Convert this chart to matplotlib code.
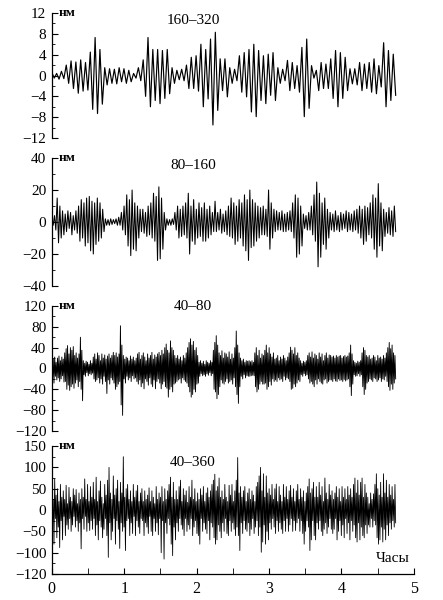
import numpy as np
import matplotlib
matplotlib.use("Agg")
import matplotlib.pyplot as plt
from matplotlib.ticker import MultipleLocator

plt.rcParams['font.family'] = ['Liberation Serif', 'DejaVu Serif']

T_END = 4.75  # hours, end of record

# ---- Panel 1: band 160-320 s (alternating peak / trough, nm)
p1_ext = [0.6, -0.5, 0.4, -0.7, 0.8, -0.6, 2.0, -1.5, 2.8, -2.5, 2.6, -3.4, 3.0, -3.0, 2.5, -2.8,
          4.5, -6.5, 7.3, -7.3, 5.0, -5.5, 1.5, -1.8, 1.3, -1.5, 1.2, -1.6, 1.5, -1.2, 1.3, -1.5,
          1.0, -1.2, 0.4, -0.5, 1.5, -1.0, 3.0, -4.0, 7.3, -6.0, 5.0, -4.8, 5.0, -5.4, 4.8, -4.4,
          5.0, -3.5, 1.5, -1.5, 1.0, -0.8, 1.2, -1.0, 2.0, -2.5, 3.5, -2.5, 3.8, -3.0, 6.0, -6.0,
          5.0, -4.5, 7.0, -9.5, 8.3, -6.7, 3.2, -2.9, 3.2, -4.1, 1.5, -1.5, 1.2, -1.0, 3.8, -3.2,
          4.4, -4.1, 5.0, -7.0, 6.0, -7.9, 4.8, -4.8, 3.8, -5.4, 4.1, -3.8, 4.4, -4.8, 1.5, -1.5,
          1.2, -1.0, 2.9, -2.9, 2.5, -2.5, 1.9, -3.2, 5.4, -7.9, 7.0, -6.3, 1.9, -0.5, 1.0, -2.9,
          2.5, -2.5, 2.2, -2.5, 3.2, -4.4, 4.8, -6.0, 4.4, -4.4, 3.5, -2.9, 1.3, -1.6, 1.3, -1.8,
          2.5, -2.9, 2.2, -2.5, 2.5, -3.2, 3.2, -3.5, 1.9, -2.2, 6.3, -6.0, 4.8, -4.8, 4.1, -3.8]

# ---- Panel 2: band 80-160 s
p2_ext = [3, -2, 4, -5,
          15, -13, 10, -10,
          7, -8, 5, -6, 7, -4, 6, -8, 4, -5, 7, -7,
          10, -12, 14, -10, 12, -15, 15, -13, 16, -18, 13, -20, 12, -14, 15, -12, 12, -10,
          8, -6,
          2, -2, 1.5, -2, 2, -1.5, 1.5, -1, 2, -2, 3, -2,
          6, -5, 10, -8, 17, -15, 14, -21, 20, -17, 12, -18, 10, -10, 8, -6,
          8, -7, 6, -9, 10, -8, 12, -10, 18, -12,
          16, -24, 22, -23, 15, -17,
          6, -5, 2, -2, 1.5, -2, 2, -1.5,
          6, -5, 10, -10, 8, -9, 10, -8,
          12, -10, 18, -20, 10, -12, 14, -14, 8, -10, 12, -9, 9, -12,
          12, -12, 8, -10, 10, -8, 6, -6, 13, -6,
          6, -5, 8, -7, 5, -6, 7, -8, 10, -9,
          15, -10, 12, -14, 10, -12, 14, -10, 12, -15, 17, -18, 14, -24, 20, -16, 14, -15, 12, -12, 10, -10, 9, -8,
          10, -8, 8, -9, 20, -17, 12, -10, 8, -6, 7, -5,
          6, -5, 7, -6,
          5, -6, 6, -5, 7, -6, 12, -10, 17, -22,
          15, -20, 10, -15,
          5, -4, 4, -5, 6, -5,
          10, -8, 17, -12, 25, -28, 18, -22, 12, -14, 15, -17, 8, -10,
          6, -5, 5, -6, 7, -5, 4, -6, 6, -5, 5, -4, 7, -6, 6, -5, 5, -6, 7, -5,
          8, -7, 10, -10, 8, -14, 10, -12, 9, -8, 12, -10,
          17, -17, 15, -22, 24, -15, 12, -18,
          8, -9, 6, -7, 9, -8, 7, -9, 10, -6]

# ---- Panel 3: band 40-80 s
p3_ext = [25, -20, 18, -28, 22, -15,
          12, -22, 20, -18, 24, -25, 15, -20, 22, -14, 18, -26,
          30, -25, 38, -40, 44, -32, 28, -42, 40, -35, 35, -30, 42, -38, 25, -28,
          30, -22, 20, -35, 28, -25,
          60, -40, 35, -62,
          15, -12, 10, -15, 14, -8, 12, -14, 8, -10, 15, -12, 10, -9,
          22, -20, 28, -25, 18, -22, 30, -18, 25, -28, 15, -20, 28, -30, 20, -15, 26, -25, 18, -48, 24, -22, 28, -30, 20, -18, 25, -22,
          31, -28, 25, -40, 30, -35, 22, -30, 28, -25,
          82, -70, 45, -90,
          25, -20, 18, -28, 22, -15, 20, -22, 15, -18, 24, -25, 18, -14, 22, -20, 15, -18,
          20, -25, 28, -30, 31, -22, 18, -35, 25, -28, 30, -39, 22, -20, 15, -25, 28, -32, 20, -18, 25, -30, 31, -35, 18, -22, 26, -39, 22, -25, 28, -20,
          31, -28, 25, -39, 35, -30, 28, -25, 40, -35,
          47, -38, 35, -55, 30, -40,
          53, -35, 40, -45, 35, -30, 25, -28,
          20, -25, 25, -22, 18, -20, 22, -28, 15, -18, 25, -22, 20, -25,
          30, -28, 40, -35, 50, -45, 57, -55, 45, -50, 52, -40, 35, -45, 40, -30, 25, -28,
          12, -15, 15, -10, 10, -14, 14, -12, 8, -15, 15, -10, 12, -13, 10, -8, 15, -14, 12, -10,
          35, -40, 50, -45, 63, -58, 45, -50, 30, -35,
          25, -22, 34, -28, 20, -30, 30, -25, 28, -20, 22, -28, 32, -25, 18, -22, 28, -30, 20, -18,
          40, -35, 72, -50, 45, -67, 30, -35,
          20, -15, 15, -20, 18, -12, 12, -18,
          15, -14, 14, -15, 15, -15, 13, -14, 15, -13, 12, -14,
          30, -35, 40, -45, 25, -40, 35, -30, 20, -25, 28, -30,
          25, -30, 35, -28, 45, -40, 30, -35, 40, -25, 28, -32, 22, -20, 30, -25, 18, -22,
          20, -25, 25, -18, 15, -22, 22, -20, 18, -25, 25, -15, 20, -22, 15, -18, 22, -20,
          30, -25, 41, -40, 35, -38, 28, -30, 40, -35, 25, -28, 30, -22, 20, -25,
          15, -12, 10, -15, 14, -10, 12, -14, 15, -12,
          25, -20, 30, -28, 22, -25, 32, -30, 20, -35, 28, -22, 25, -30, 18, -20, 30, -25, 22, -28, 28, -30, 15, -22, 25, -20, 30, -28, 20, -25, 26, -22,
          25, -22, 22, -25, 24, -20, 20, -24, 25, -25, 22, -20, 24, -23, 25, -22, 20, -25, 23, -21, 25, -24, 22, -22, 24, -20,
          30, -35, 45, -52, 28, -30,
          15, -12, 12, -15, 10, -14, 14, -10, 12, -15, 15, -12,
          30, -35, 40, -50, 35, -40, 25, -28,
          22, -25, 25, -20, 18, -22, 20, -25, 25, -18, 22, -20, 15, -25, 25, -22, 20, -18, 22, -25, 18, -20, 25, -22, 20, -15,
          30, -25, 40, -35, 50, -42, 38, -30, 45, -40, 30, -28, 25, -20]

# ---- Panel 4: band 40-360 s
p4_ext = [70, -30, 25, -80, 73, -20, 35, -65, 50, -40,
          20, -88, 60, -25, 30, -70, 45, -15, 25, -60, 58, -35,
          15, -45, 53, -20, 30, -50, 20, -35, 50, -15, 35, -40, 48, -25, 15, -50, 40, -30, 25, -91,
          50, -20, 30, -45, 73, -15, 25, -50, 60, -30, 20, -48, 55, -25,
          30, -45, 65, -20, 25, -60, 77, -35, 20, -70, 45, -25, 68, -40, 30, -65, 15, -45, 60, -20, 35, -60, 70, -111,
          100, -30, 40, -70, 25, -50, 80, -20, 35, -80, 50, -25, 70, -45, 20, -90, 65, -30, 40, -50,
          125, -40, 30, -95, 50, -25,
          60, -20, 25, -60, 45, -30, 20, -55, 60, -15, 30, -60, 45, -25, 58, -40, 20, -55, 40, -20,
          50, -25, 20, -60, 45, -30, 25, -40, 35, -55, 52, -15, 20, -50, 45, -60, 30, -20, 15, -50, 55, -30, 25, -58, 40, -20, 30, -100,
          55, -25, 20, -115, 50, -30, 25, -55, 45, -20,
          60, -35, 77, -80, 30, -107, 65, -40, 25, -70, 45, -30,
          25, -50, 55, -20, 70, -35, 20, -45, 50, -60, 35, -20, 45, -50, 18, -35, 55, -45, 30, -20, 70, -60, 25, -40,
          50, -25, 20, -55, 40, -60, 25, -80, 50, -20, 35, -50, 55, -30, 20, -45, 40, -55, 52, -25, 30, -70, 45, -30,
          60, -40, 70, -65, 84, -80, 45, -70, 55, -35, 75, -50, 30, -65,
          45, -30, 25, -50, 60, -20, 30, -55, 20, -60, 58, -25, 35, -50, 60, -30, 20, -45, 45, -60,
          70, -40, 123, -60, 40, -95, 55, -30,
          30, -55, 45, -25, 55, -45, 20, -50, 40, -30, 50, -60, 25, -45, 45, -20, 35, -55, 20, -40, 55, -25, 65, -60,
          80, -40, 100, -99, 45, -75, 85, -35, 30, -80, 80, -50, 40, -70, 50, -30,
          35, -45, 60, -20, 25, -40, 50, -55, 61, -25, 20, -50, 55, -30, 35, -45, 20, -55, 60, -25, 30, -50,
          55, -20, 25, -50, 45, -35, 58, -20, 30, -50, 50, -25, 20, -48, 45, -30, 60, -20, 25, -50,
          50, -25, 30, -55, 45, -80, 20, -50, 40, -25,
          55, -40, 73, -95, 40, -70, 50, -25, 65, -60, 30, -70, 55, -30,
          30, -45, 65, -25, 35, -50, 55, -60, 20, -45, 75, -30, 40, -55, 25, -40, 60, -20, 35, -45, 45, -55,
          25, -45, 40, -20, 55, -70, 30, -50, 50, -25, 20, -60, 55, -35, 30, -65, 50, -20, 25, -55, 55, -30, 35, -70, 50, -25, 30, -50,
          60, -35, 75, -65, 40, -75, 70, -30, 35, -70, 65, -40, 75, -60, 30, -65, 60, -35, 40, -55,
          30, -35, 15, -40, 40, -20, 25, -40, 38, -25,
          60, -35, 85, -65, 50, -80, 35, -70, 65, -40, 30, -75, 85, -45, 40, -70, 70, -35, 30, -60,
          60, -30, 35, -45, 55, -25, 25, -40, 60, -30]

bands = ["160\u2013320", "80\u2013160", "40\u201380", "40\u2013360"]
series = [p1_ext, p2_ext, p3_ext, p4_ext]

p1_yticks = [12, 8, 4, 0, -4, -8, -12]
p2_yticks = [40, 20, 0, -20, -40]
p3_yticks = [120, 80, 40, 0, -40, -80, -120]
p4_yticks = [150, 100, 50, 0, -50, -100, -150]
p4_ylabels = ["150", "100", "50", "0", "\u221250", "\u2212100", "\u2212120"]
yticks = [p1_yticks, p2_yticks, p3_yticks, p4_yticks]
yminor = [2, 10, 20, 25]
x_ticks = [0, 1, 2, 3, 4, 5]
unit_label = "нм"
x_label = "Часы"

fig = plt.figure(figsize=(4.43, 6.0), dpi=100)
left, width = 0.117, 0.817
rects = [(0.770, 0.2083), (0.5233, 0.2133), (0.2817, 0.2083), (0.0433, 0.2133)]
title_y = [0.944, 0.945, 1.0, 0.875]
line_w = [0.85, 0.75, 0.65, 0.6]

for i, (y0, h) in enumerate(rects):
    ax = fig.add_axes([left, y0, width, h])
    vals = series[i]
    t = np.linspace(0, T_END, len(vals))
    ax.plot(t, vals, color='black', lw=line_w[i])
    ax.set_xlim(0, 5)
    ymax = max(yticks[i])
    ax.set_ylim(-ymax, ymax)
    for s in ['top', 'right']:
        ax.spines[s].set_visible(False)
    ax.spines['left'].set_linewidth(0.9)
    ax.set_yticks(yticks[i])
    if i == 3:
        ax.set_yticklabels(p4_ylabels)
    else:
        ax.set_yticklabels([str(v).replace('-', '\u2212') for v in yticks[i]])
    ax.yaxis.set_minor_locator(MultipleLocator(yminor[i]))
    ax.tick_params(axis='y', which='both', direction='in', labelsize=11, pad=4)
    ax.tick_params(axis='y', which='major', length=4)
    ax.tick_params(axis='y', which='minor', length=2.5)
    if i < 3:
        ax.spines['bottom'].set_visible(False)
        ax.set_xticks([])
    else:
        ax.spines['bottom'].set_linewidth(0.9)
        ax.set_xticks(x_ticks)
        ax.xaxis.set_minor_locator(MultipleLocator(0.5))
        ax.tick_params(axis='x', which='both', direction='in', labelsize=11.5, pad=5)
        ax.tick_params(axis='x', which='major', length=4)
        ax.tick_params(axis='x', which='minor', length=4)
        ax.text(4.71, 0.125, x_label, transform=ax.get_xaxis_transform(),
                ha='center', va='center', fontsize=11)
    ax.text(0.02, 1.0, unit_label, transform=ax.transAxes, ha='left', va='center',
            fontsize=9.5, fontweight='bold')
    ax.text(1.95, title_y[i], bands[i], transform=ax.get_xaxis_transform(),
            ha='center', va='center', fontsize=11)

fig.savefig("out.png", dpi=100)
